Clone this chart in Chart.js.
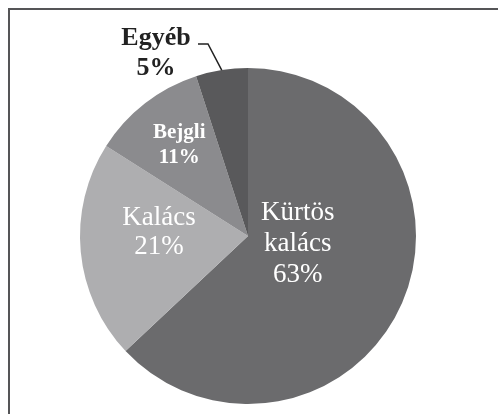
<!DOCTYPE html>
<html>
<head>
<meta charset="utf-8">
<script src="https://cdn.jsdelivr.net/npm/chart.js@4/dist/chart.umd.min.js"></script>
<style>
html,body{margin:0;padding:0;background:#ffffff;}
#wrap{position:relative;width:498px;height:414px;}
canvas{display:block;}
</style>
</head>
<body>
<div id="wrap"><canvas id="c" width="498" height="414"></canvas></div>
<script>
const categories = ['Kürtös kalács', 'Kalács', 'Bejgli', 'Egyéb'];
const values = [63, 21, 11, 5];
const labelLines = [['Kürtös', 'kalács'], ['Kalács'], ['Bejgli'], ['Egyéb']];
const colors = ['#6b6b6d', '#aeaeb0', '#8b8b8e', '#59595b'];

// label placement (angle in degrees clockwise from top, radius as fraction of pie radius)
const labelLayout = [
  {angle: 99, r: 0.30, font: '27px "Liberation Serif"', color: '#ffffff', lh: 31},
  {angle: 272, r: 0.53, font: '27px "Liberation Serif"', color: '#ffffff', lh: 29},
  {angle: 323, r: 0.68, font: 'bold 21px "Liberation Serif"', color: '#ffffff', lh: 25},
  {outside: true, x: 156, y: 53, font: 'bold 26px "Liberation Serif"', color: '#222222', lh: 30}
];

const labelPlugin = {
  id: 'pieLabels',
  beforeDraw(chart) {
    const ctx = chart.ctx;
    ctx.save();
    ctx.fillStyle = '#ffffff';
    ctx.fillRect(0, 0, chart.width, chart.height);
    ctx.fillStyle = '#555557';
    ctx.fillRect(8, 8, chart.width - 8, 2);
    ctx.fillRect(8, 8, 2, chart.height - 8);
    ctx.restore();
  },
  afterDatasetsDraw(chart) {
    const ctx = chart.ctx;
    const meta = chart.getDatasetMeta(0);
    const total = values.reduce((a, b) => a + b, 0);
    ctx.save();
    ctx.textAlign = 'center';
    ctx.textBaseline = 'middle';
    meta.data.forEach((arc, i) => {
      const L = labelLayout[i];
      const lines = labelLines[i].concat([Math.round(values[i] / total * 100) + '%']);
      let cx, cy;
      if (L.outside) {
        cx = L.x; cy = L.y;
        // leader line to the middle of the arc's outer edge
        const mid = (arc.startAngle + arc.endAngle) / 2;
        const ex = arc.x + arc.outerRadius * Math.cos(mid);
        const ey = arc.y + arc.outerRadius * Math.sin(mid);
        ctx.strokeStyle = '#222222';
        ctx.lineWidth = 1.5;
        ctx.beginPath();
        ctx.moveTo(198, 44);
        ctx.lineTo(208, 44);
        ctx.lineTo(ex, ey);
        ctx.stroke();
      } else {
        const a = L.angle * Math.PI / 180;
        cx = arc.x + L.r * arc.outerRadius * Math.sin(a);
        cy = arc.y - L.r * arc.outerRadius * Math.cos(a);
      }
      ctx.font = L.font;
      ctx.fillStyle = L.color;
      const n = lines.length;
      lines.forEach((t, k) => {
        ctx.fillText(t, cx, cy + (k - (n - 1) / 2) * L.lh);
      });
    });
    ctx.restore();
  }
};

new Chart(document.getElementById('c'), {
  type: 'pie',
  data: {
    labels: categories,
    datasets: [{
      data: values,
      backgroundColor: colors,
      borderWidth: 0
    }]
  },
  options: {
    responsive: false,
    animation: false,
    layout: {padding: {top: 68, bottom: 10, left: 0, right: 2}},
    plugins: {legend: {display: false}, tooltip: {enabled: false}}
  },
  plugins: [labelPlugin]
});
</script>
</body>
</html>
